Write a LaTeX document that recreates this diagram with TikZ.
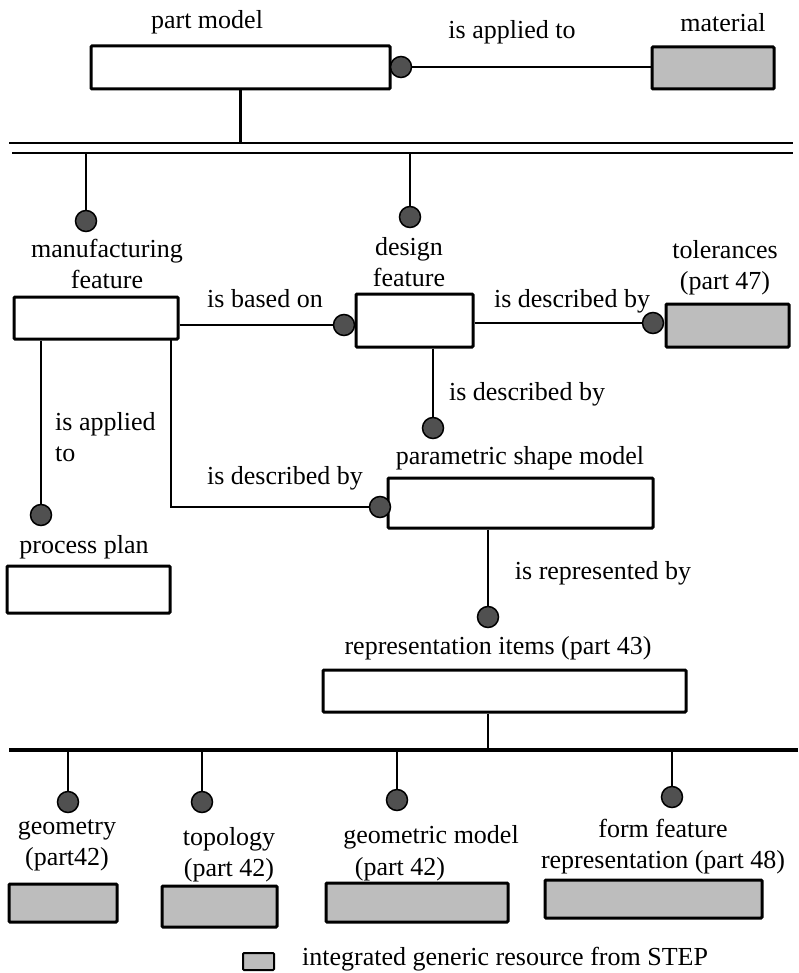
\documentclass[tikz,border=0pt]{standalone}
\usepackage{fontspec}
\setmainfont{Liberation Serif}
\definecolor{resgray}{HTML}{BDBDBD}
\definecolor{dotgray}{HTML}{505050}
\tikzset{
  lbl/.style={inner sep=0pt, font=\fontsize{26}{31}\selectfont, align=center},
  ent/.style={draw=black, line width=3pt, fill=white, inner sep=0pt, rounded corners=1pt},
  res/.style={ent, fill=resgray},
  jdot/.style={circle, draw=black, line width=1.5pt, fill=dotgray, minimum size=21pt, inner sep=0pt},
  conn/.style={line width=2.6pt},
  bus/.style={line width=2.8pt},
  thickbus/.style={line width=4.5pt},
}
\begin{document}
\begin{tikzpicture}[x=1pt,y=-1pt]
\useasboundingbox (0,0) rectangle (798,973);

% boxes
\node[ent, minimum width=299pt, minimum height=43pt] (pm) at (240.5,67.5) {};
\node[res, minimum width=122pt, minimum height=42pt] (mat) at (713,68) {};
\node[ent, minimum width=164pt, minimum height=42pt] (mf) at (96,318) {};
\node[ent, minimum width=117pt, minimum height=53pt] (df) at (414.5,320.5) {};
\node[res, minimum width=123pt, minimum height=43pt] (tol) at (727.5,325.5) {};
\node[ent, minimum width=265pt, minimum height=50pt] (psm) at (520.5,503) {};
\node[ent, minimum width=163pt, minimum height=47pt] (pp) at (88.5,589.5) {};
\node[ent, minimum width=363pt, minimum height=42pt] (ri) at (504.5,691) {};
\node[res, minimum width=108pt, minimum height=38pt] (geo) at (63,903) {};
\node[res, minimum width=115pt, minimum height=41pt] (top) at (219.5,906.5) {};
\node[res, minimum width=182pt, minimum height=39pt] (gm) at (417,902.5) {};
\node[res, minimum width=217pt, minimum height=38pt] (ff) at (653.5,899) {};
\node[res, line width=2pt, minimum width=31pt, minimum height=17pt] (leg) at (258.5,961.5) {};

% buses
\coordinate (b1a) at (9,143);
\coordinate (b1b) at (793,143);
\coordinate (b2a) at (12,153);
\coordinate (b2b) at (793,153);
\coordinate (b3a) at (9,750);
\coordinate (b3b) at (798,750);
\draw[bus] (b1a) -- (b1b);
\draw[bus] (b2a) -- (b2b);
\draw[thickbus] (b3a) -- (b3b);

% dots
\node[jdot] (d1) at (401,67) {};
\node[jdot] (d2) at (86,221) {};
\node[jdot] (d3) at (410,217) {};
\node[jdot] (d4) at (344,325) {};
\node[jdot] (d5) at (653,323) {};
\node[jdot] (d6) at (433,428) {};
\node[jdot] (d7) at (41,515) {};
\node[jdot] (d8) at (380,507) {};
\node[jdot] (d9) at (488,617) {};
\node[jdot] (d10) at (68,802) {};
\node[jdot] (d11) at (202,802) {};
\node[jdot] (d12) at (397,800) {};
\node[jdot] (d13) at (672,797) {};

\coordinate (mfr) at (171,339);

% connectors
\draw[conn] (d1) -- (mat.west |- d1);
\draw[conn] (pm.south) -- (pm.south |- b1a);
\draw[conn] (d2 |- b2a) -- (d2);
\draw[conn] (d3 |- b2a) -- (d3);
\draw[conn] (mf.east |- d4) -- (d4);
\draw[conn] (df.east |- d5) -- (d5);
\draw[conn] (d6 |- df.south) -- (d6);
\draw[conn] (d7 |- mf.south) -- (d7);
\draw[conn] (mfr) -- (mfr |- d8) -- (d8);
\draw[conn] (d9 |- psm.south) -- (d9);
\draw[conn] (ri.south -| d9) -- (d9 |- b3a);
\draw[conn] (d10 |- b3a) -- (d10);
\draw[conn] (d11 |- b3a) -- (d11);
\draw[conn] (d12 |- b3a) -- (d12);
\draw[conn] (d13 |- b3a) -- (d13);

% labels
\node[lbl] (tpm) at (207,22) {part model};
\node[lbl] (tapp) at (512,32) {is applied to};
\node[lbl] (tmat) at (723,23) {material};
\node[lbl] (tmf) at (107,264) {manufacturing\\feature};
\node[lbl] (tdf) at (409,262) {design\\feature};
\node[lbl] (tbased) at (265,299) {is based on};
\node[lbl] (tdesc1) at (572,301) {is described by};
\node[lbl] (ttol) at (725,268) {tolerances\\(part 47)};
\node[lbl] (tdesc2) at (527,394) {is described by};
\node[lbl, align=left, anchor=west] (tapp2) at (55,437) {is applied\\to};
\node[lbl] (tdesc3) at (285,478) {is described by};
\node[lbl] (tpsm) at (520,458) {parametric shape model};
\node[lbl] (tpp) at (84,547) {process plan};
\node[lbl] (trep) at (603,573) {is represented by};
\node[lbl] (tri) at (498,648) {representation items (part 43)};
\node[lbl] (tgeo) at (67,845) {geometry\\(part42)};
\node[lbl] (ttop) at (229,855) {topology\\(part 42)};
\node[lbl] (tgm1) at (431,837) {geometric model};
\node[lbl] (tgm2) at (400,869) {(part 42)};
\node[lbl] (tff) at (663,847) {form feature\\representation (part 48)};
\node[lbl, anchor=west] (tleg) at (302,959) {integrated generic resource from STEP};
\end{tikzpicture}
\end{document}
